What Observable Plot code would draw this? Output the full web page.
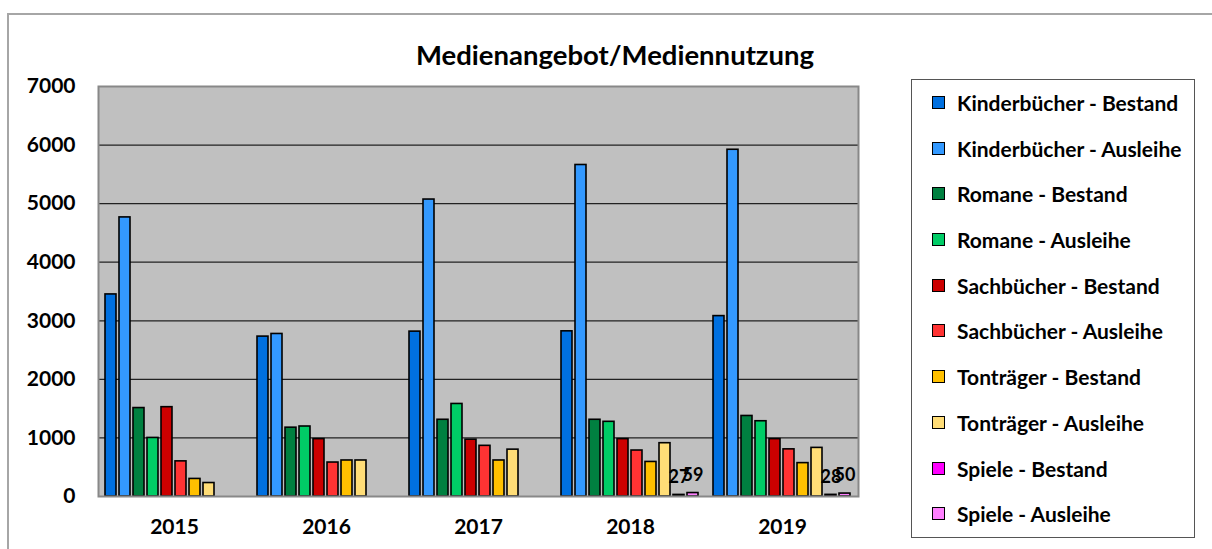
<!DOCTYPE html>
<html>
<head>
<meta charset="utf-8">
<script src="https://cdn.jsdelivr.net/npm/d3@7"></script>
<script src="https://cdn.jsdelivr.net/npm/@observablehq/plot@0.6"></script>
<style>
  html, body { margin: 0; padding: 0; background: #fff; width: 1212px; height: 549px; overflow: hidden; }
  body { position: relative; font-family: Lato, "Open Sans", sans-serif; font-weight: bold; color: #000; }
  #outer { position: absolute; left: 7px; top: 13px; width: 1300px; height: 700px; border: 2px solid #a6a6a6; box-sizing: border-box; }
  #title { position: absolute; left: 415px; width: 400px; top: 38px; text-align: center; font-size: 27.5px; font-weight: bold; white-space: nowrap; }
  #chart { position: absolute; left: 0; top: 0; }
  #chart svg { overflow: visible; }
  #legend { position: absolute; left: 911px; top: 79px; width: 284px; height: 459px; border: 1.5px solid #555; box-sizing: border-box; background: #fff; padding-top: 0px; }
  .row { position: relative; height: 45.7px; }
  .sw { position: absolute; left: 20px; top: 16px; width: 11px; height: 11px; border: 1.6px solid #000; }
  .lab { position: absolute; left: 45px; top: 0; line-height: 45.7px; font-size: 21px; font-weight: bold; white-space: nowrap; }
</style>
</head>
<body>
<div id="outer"></div>
<div id="title">Medienangebot/Mediennutzung</div>
<div id="chart"></div>
<div id="legend"></div>
<script>
const years = ["2015", "2016", "2017", "2018", "2019"];
const seriesNames = [
  "Kinderbücher - Bestand", "Kinderbücher - Ausleihe",
  "Romane - Bestand", "Romane - Ausleihe",
  "Sachbücher - Bestand", "Sachbücher - Ausleihe",
  "Tonträger - Bestand", "Tonträger - Ausleihe",
  "Spiele - Bestand", "Spiele - Ausleihe"
];
const seriesColors = [
  "#0070E0", "#3399FF", "#008040", "#00CC66", "#CC0000",
  "#FF3333", "#FFC000", "#FFDD77", "#FF00FF", "#FF80FF"
];
const kinderBestand   = [3450, 2730, 2815, 2820, 3080];
const kinderAusleihe  = [4765, 2775, 5070, 5660, 5920];
const romaneBestand   = [1510, 1175, 1310, 1310, 1375];
const romaneAusleihe  = [1000, 1195, 1580, 1275, 1285];
const sachBestand     = [1525, 980, 970, 980, 980];
const sachAusleihe    = [600, 580, 865, 785, 805];
const tonBestand      = [300, 615, 615, 590, 570];
const tonAusleihe     = [230, 615, 800, 910, 830];
const spieleBestand   = [null, null, null, 27, 28];
const spieleAusleihe  = [null, null, null, 59, 50];
const yTicks = [0, 1000, 2000, 3000, 4000, 5000, 6000, 7000];

const seriesValues = [kinderBestand, kinderAusleihe, romaneBestand, romaneAusleihe,
  sachBestand, sachAusleihe, tonBestand, tonAusleihe, spieleBestand, spieleAusleihe];

const data = [];
years.forEach((year, i) => {
  seriesNames.forEach((name, s) => {
    const v = seriesValues[s][i];
    if (v != null) data.push({year, series: name, value: v});
  });
});
const labelData = data.filter(d => d.series.startsWith("Spiele"));

const font = "Lato, 'Open Sans', sans-serif";

const chart = Plot.plot({
  width: 870,
  height: 549,
  marginLeft: 98,
  marginRight: 12,
  marginTop: 86,
  marginBottom: 53,
  style: {fontFamily: font, fontSize: "21px", fontWeight: "bold", color: "#000", background: "transparent"},
  fx: {domain: years, padding: 0, tickSize: 0, tickPadding: 23, label: null},
  x: {domain: seriesNames, axis: null, paddingInner: 0.18, paddingOuter: 0.26},
  y: {domain: [0, 7000], ticks: yTicks, tickSize: 0, tickPadding: 23, tickFormat: d => String(d), label: null},
  color: {domain: seriesNames, range: seriesColors},
  marks: [
    Plot.frame({fill: "#C0C0C0", stroke: null, facet: "super"}),
    Plot.ruleY(yTicks.filter(t => t > 0 && t < 7000), {stroke: "#222", strokeWidth: 1.2}),
    Plot.barY(data, {fx: "year", x: "series", y: "value", fill: "series", stroke: "#000", strokeWidth: 1.6}),
    Plot.text(labelData, {fx: "year", x: "series", y: "value", text: d => String(d.value), dy: -18, fontSize: 18, fontWeight: "bold", fill: "#000"}),
    Plot.frame({stroke: "#888", strokeWidth: 2, facet: "super"})
  ]
});
document.getElementById("chart").appendChild(chart);

const legend = document.getElementById("legend");
seriesNames.forEach((name, i) => {
  const row = document.createElement("div");
  row.className = "row";
  const sw = document.createElement("div");
  sw.className = "sw";
  sw.style.background = seriesColors[i];
  const lab = document.createElement("div");
  lab.className = "lab";
  lab.textContent = name;
  row.appendChild(sw);
  row.appendChild(lab);
  legend.appendChild(row);
});
</script>
</body>
</html>
